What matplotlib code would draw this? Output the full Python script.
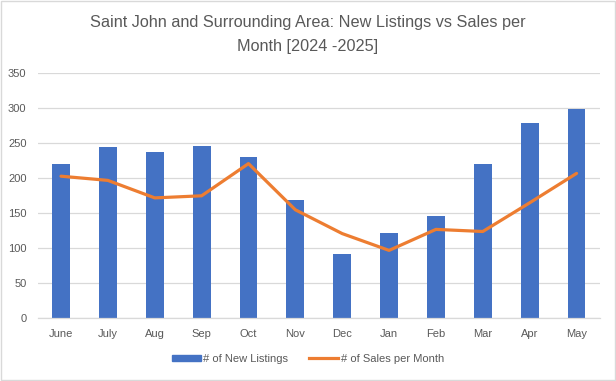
import matplotlib
matplotlib.use('Agg')
import matplotlib.pyplot as plt
from matplotlib.patches import Rectangle
from matplotlib.lines import Line2D

months = ['June', 'July', 'Aug', 'Sep', 'Oct', 'Nov', 'Dec', 'Jan', 'Feb', 'Mar', 'Apr', 'May']
new_listings = [220, 245, 238, 246, 230, 169, 92, 122, 146, 220, 279, 299]
sales_per_month = [203, 197, 172, 175, 221, 155, 121, 97, 127, 124, 165, 207]
y_ticks = [0, 50, 100, 150, 200, 250, 300, 350]

plt.rcParams['font.family'] = ['Liberation Sans', 'DejaVu Sans']
text_grey = '#595959'
bar_blue = '#4472C4'
line_orange = '#ED7D31'

fig = plt.figure(figsize=(6.16, 3.81), dpi=100)
ax = fig.add_axes([0.061, 0.1646, 0.913, 0.643])

x = range(len(months))
ax.bar(x, new_listings, width=0.38, color=bar_blue, zorder=2)
ax.plot(x, sales_per_month, color=line_orange, linewidth=2.3, zorder=3,
        solid_capstyle='round', solid_joinstyle='round')

ax.set_xlim(-0.5, len(months) - 0.5)
ax.set_ylim(0, 350)
ax.set_yticks(y_ticks)
ax.set_xticks(list(x))
ax.set_xticklabels(months)
ax.tick_params(axis='both', length=0, labelsize=8, colors=text_grey)
ax.tick_params(axis='x', pad=8)
ax.tick_params(axis='y', pad=8)
ax.grid(axis='y', color='#D9D9D9', linewidth=0.9, zorder=0)
for side in ['top', 'right', 'left']:
    ax.spines[side].set_visible(False)
ax.spines['bottom'].set_color('#D9D9D9')
ax.spines['bottom'].set_linewidth(0.9)

fig.text(0.5, 0.942, 'Saint John and Surrounding Area: New Listings vs Sales per',
         ha='center', va='center', fontsize=11.7, color=text_grey)
fig.text(0.5, 0.879, 'Month [2024 -2025]',
         ha='center', va='center', fontsize=11.7, color=text_grey)

handles = [Rectangle((0, 0), 1, 1, color=bar_blue),
           Line2D([0], [0], color=line_orange, linewidth=2.3)]
fig.legend(handles, ['# of New Listings', '# of Sales per Month'],
           loc='center', bbox_to_anchor=(0.5, 0.058), ncol=2, frameon=False,
           fontsize=8, labelcolor=text_grey, handlelength=2.6, handleheight=0.5,
           handletextpad=0.2, columnspacing=1.9)

fig.patches.append(Rectangle((0.001, 0.002), 0.997, 0.995, transform=fig.transFigure,
                             fill=False, edgecolor='#D9D9D9', linewidth=1.0))

fig.savefig('out.png', dpi=100)
